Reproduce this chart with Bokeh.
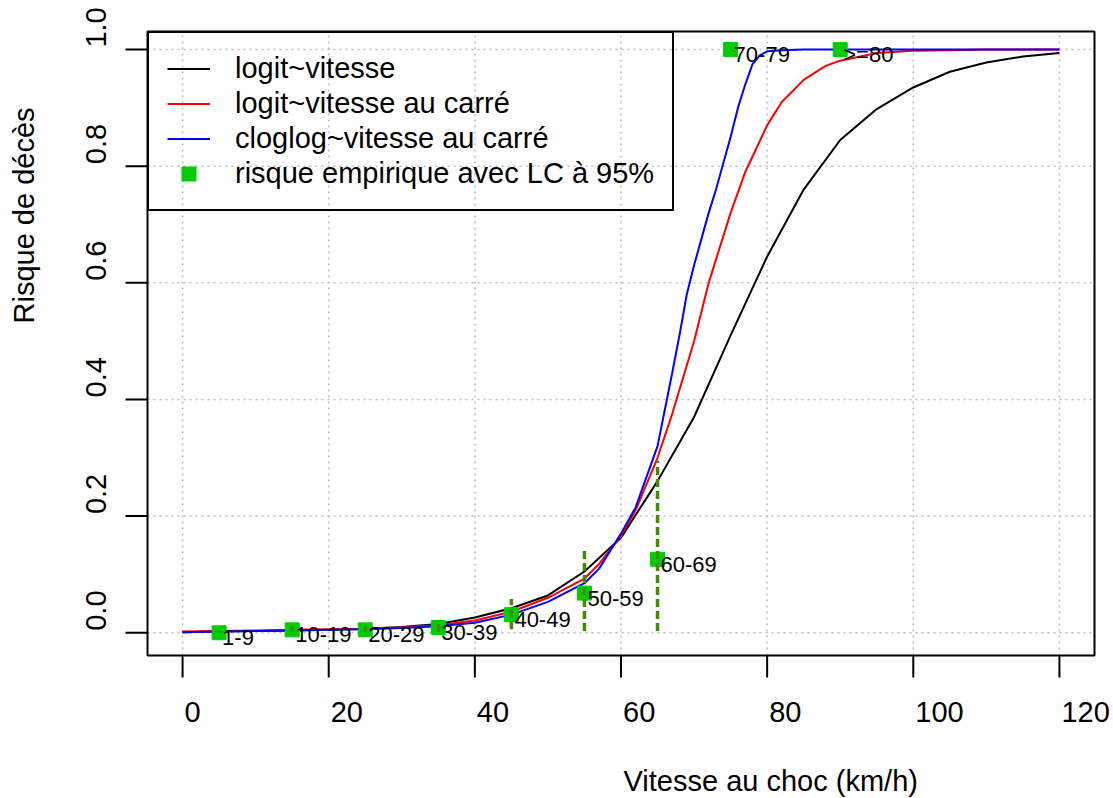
import math
from bokeh.plotting import figure
from bokeh.models import Range1d, Label, Legend, LegendItem, BoxAnnotation
from bokeh.embed import file_html
from bokeh.resources import INLINE
from bokeh.core.properties import value

# ---------------- data ----------------
speed_logit = [0, 5, 10, 15, 20, 25, 30, 35, 40, 45, 50, 55, 60, 65, 70, 75,
               80, 85, 90, 95, 100, 105, 110, 115, 120]
risk_logit = [0.001, 0.002, 0.003, 0.004, 0.005, 0.007, 0.010, 0.015, 0.026,
              0.042, 0.064, 0.105, 0.163, 0.26, 0.37, 0.51, 0.645, 0.76, 0.845,
              0.898, 0.935, 0.962, 0.978, 0.988, 0.994]

speed_logit2 = [0, 5, 10, 15, 20, 25, 30, 35, 40, 45, 50, 55, 57, 60, 62, 65,
                67, 70, 72, 75, 77, 80, 82, 85, 88, 90, 95, 100, 105, 110, 120]
risk_logit2 = [0.002, 0.003, 0.004, 0.005, 0.006, 0.007, 0.009, 0.013, 0.021,
               0.036, 0.060, 0.093, 0.118, 0.166, 0.21, 0.30, 0.375, 0.50, 0.60,
               0.72, 0.79, 0.87, 0.91, 0.948, 0.972, 0.981, 0.994, 0.998,
               0.999, 1.0, 1.0]

speed_cloglog2 = [0, 5, 10, 15, 20, 25, 30, 35, 40, 45, 50, 55, 57, 60, 62, 65,
                  67, 68, 69, 70, 71, 72, 73, 74, 75, 76, 77, 78, 79, 80, 82,
                  85, 90, 100, 110, 120]
risk_cloglog2 = [0.001, 0.002, 0.003, 0.004, 0.005, 0.006, 0.008, 0.011, 0.017,
                 0.031, 0.053, 0.085, 0.11, 0.17, 0.215, 0.32, 0.445, 0.51,
                 0.58, 0.63, 0.675, 0.72, 0.76, 0.805, 0.85, 0.90, 0.94, 0.975,
                 0.99, 0.997, 0.999, 1.0, 1.0, 1.0, 1.0, 1.0]

group_labels = ["1-9", "10-19", "20-29", "30-39", "40-49", "50-59", "60-69",
                "70-79", ">=80"]
group_speed = [5, 15, 25, 35, 45, 55, 65, 75, 90]
group_risk = [0.0, 0.005, 0.005, 0.009, 0.031, 0.068, 0.126, 1.0, 1.0]
ci_low = [0.0, 0.001, 0.001, 0.002, 0.006, 0.003, 0.003, 1.0, 1.0]
ci_high = [0.003, 0.011, 0.011, 0.018, 0.058, 0.144, 0.295, 1.0, 1.0]

x_ticks = [0, 20, 40, 60, 80, 100, 120]
x_tick_labels = ["0", "20", "40", "60", "80", "100", "120"]
y_ticks = [0.0, 0.2, 0.4, 0.6, 0.8, 1.0]
y_tick_labels = ["0.0", "0.2", "0.4", "0.6", "0.8", "1.0"]

legend_labels = ["logit~vitesse", "logit~vitesse au carré",
                 "cloglog~vitesse au carré", "risque empirique avec LC à 95%"]
x_title = "Vitesse au choc (km/h)"
y_title = "Risque de décès"

# ---------------- layout ----------------
FONT = "Liberation Sans"
W, H = 1113, 798
L, R, T, B = 147, 1094, 31, 655          # plot box in pixels
X0, X1 = -4.8, 124.8                      # user range inside the box
Y0, Y1 = -0.039, 1.031
SX = (R - L) / (X1 - X0)
SY = (B - T) / (Y1 - Y0)
TICK = 22
BASE = 11   # renderer places alphabetic baseline ~11px lower for 29px text

p = figure(width=W, height=H, output_backend="svg", toolbar_location=None,
           x_range=Range1d(X0 - L / SX, X1 + (W - R) / SX),
           y_range=Range1d(Y0 - (H - B) / SY, Y1 + T / SY),
           x_axis_location=None, y_axis_location=None,
           min_border=0)
p.min_border_left = p.min_border_right = p.min_border_top = p.min_border_bottom = 0
p.background_fill_color = "white"
p.border_fill_color = "white"
p.outline_line_color = None
p.grid.visible = False

# grid (dotted light grey)
grid_kw = dict(line_color="#bdbdbd", line_dash="2 4", line_width=1.5)
p.segment(x0=x_ticks, y0=[Y0] * len(x_ticks), x1=x_ticks, y1=[Y1] * len(x_ticks), **grid_kw)
p.segment(x0=[X0] * len(y_ticks), y0=y_ticks, x1=[X1] * len(y_ticks), y1=y_ticks, **grid_kw)

# ticks
p.segment(x0=x_ticks, y0=[Y0] * len(x_ticks), x1=x_ticks,
          y1=[Y0 - TICK / SY] * len(x_ticks), line_color="black", line_width=2)
p.segment(x0=[X0] * len(y_ticks), y0=y_ticks, x1=[X0 - TICK / SX] * len(y_ticks),
          y1=y_ticks, line_color="black", line_width=2)

# curves, points, CIs, labels
r1 = p.line(speed_logit, risk_logit, line_color="black", line_width=2)
r2 = p.line(speed_logit2, risk_logit2, line_color="#ff0000", line_width=2)
r3 = p.line(speed_cloglog2, risk_cloglog2, line_color="#0000ff", line_width=2)
r4 = p.scatter(group_speed, group_risk, marker="square", size=14,
               fill_color="#00cd00", line_color="#00cd00")
p.segment(x0=group_speed, y0=ci_low, x1=group_speed, y1=ci_high,
          line_color="#458b00", line_width=3.5, line_dash="8 4")
p.text(x=group_speed, y=group_risk, text=group_labels,
       text_font=value(FONT), text_font_size="22px", text_color="black",
       text_align="left", text_baseline="alphabetic", x_offset=3, y_offset=5)

# plot box
p.add_layout(BoxAnnotation(left=X0, right=X1, bottom=Y0, top=Y1,
                           fill_color=None, fill_alpha=0, line_color="black",
                           line_alpha=1.0, line_width=2))

# legend
ROW, PAD, NITEMS = 35, 18, 4
leg_h = 2 * PAD + NITEMS * ROW
legend = Legend(items=[LegendItem(label=legend_labels[0], renderers=[r1]),
                       LegendItem(label=legend_labels[1], renderers=[r2]),
                       LegendItem(label=legend_labels[2], renderers=[r3]),
                       LegendItem(label=legend_labels[3], renderers=[r4])],
                location=(L, H - T - leg_h - 4), margin=0, padding=PAD, spacing=0,
                glyph_width=43, glyph_height=ROW, label_height=ROW,
                label_standoff=25, label_text_font=FONT,
                label_text_font_size="29px", label_text_color="black",
                border_line_color="black", border_line_width=2,
                border_line_alpha=1.0, background_fill_alpha=0)
p.add_layout(legend)

# tick labels (R draws them starting at the tick)
for t, s in zip(x_ticks, x_tick_labels):
    p.add_layout(Label(x=t, y=Y0, text=s, x_offset=2, y_offset=-(722 - B - BASE),
                       text_align="left", text_baseline="alphabetic",
                       text_font=FONT, text_font_size="29px", text_color="black"))
for t, s in zip(y_ticks, y_tick_labels):
    p.add_layout(Label(x=X0, y=t, text=s, x_offset=-(L - 106 + BASE), y_offset=2,
                       angle=math.pi / 2, text_align="left",
                       text_baseline="alphabetic", text_font=FONT,
                       text_font_size="29px", text_color="black"))

# axis titles
p.add_layout(Label(x=(X0 + X1) / 2, y=Y0, text=x_title, x_offset=2.5,
                   y_offset=-(791 - B - BASE), text_align="left",
                   text_baseline="alphabetic", text_font=FONT,
                   text_font_size="29px", text_color="black"))
p.add_layout(Label(x=X0, y=(Y0 + Y1) / 2, text=y_title, x_offset=-(L - 34 + BASE),
                   y_offset=20, angle=math.pi / 2, text_align="left",
                   text_baseline="alphabetic", text_font=FONT,
                   text_font_size="29px", text_color="black"))

open("out.html", "w").write(file_html(p, INLINE))
